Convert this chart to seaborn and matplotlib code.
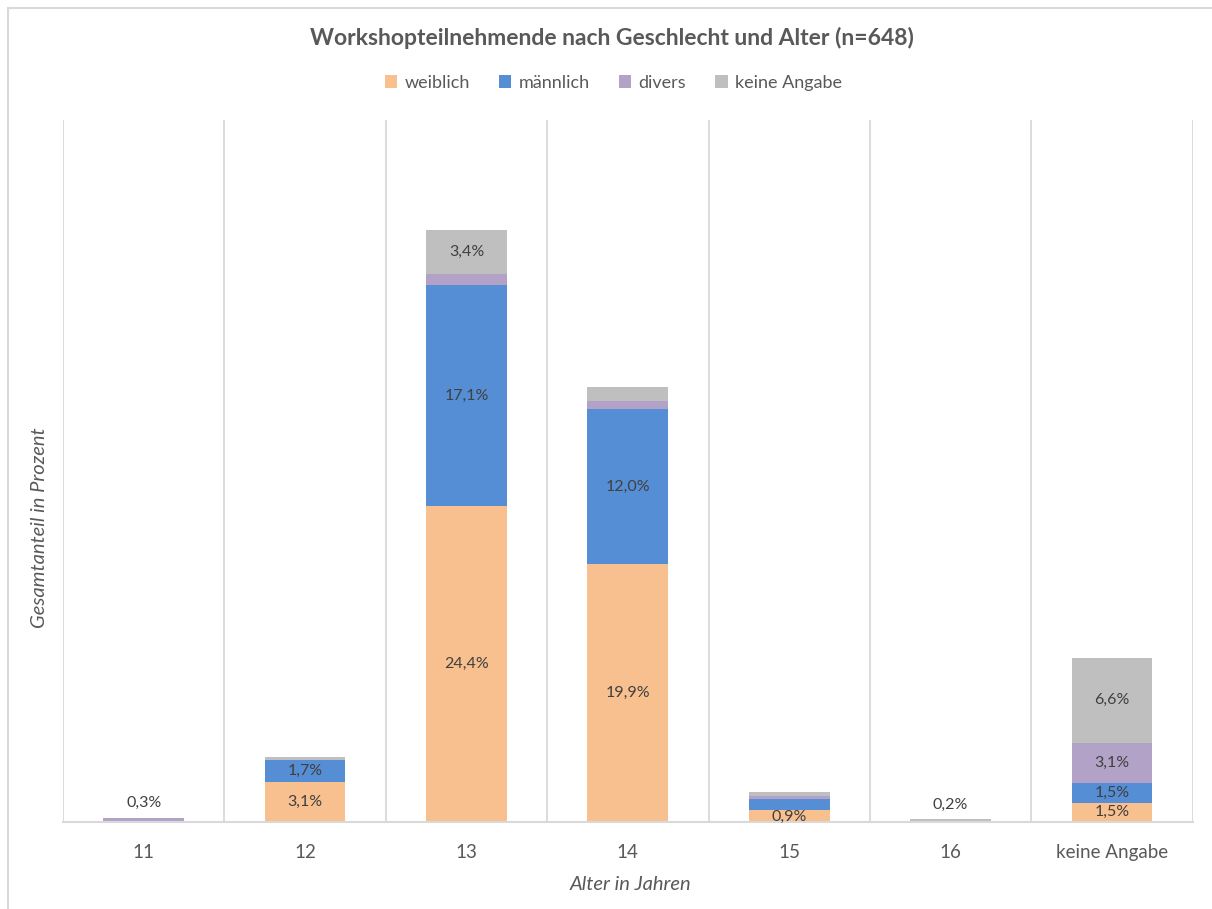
import matplotlib
matplotlib.use("Agg")
import matplotlib.pyplot as plt
import seaborn as sns
import pandas as pd
import numpy as np
from matplotlib.patches import Patch
from matplotlib.lines import Line2D

sns.set_theme(style="white")
plt.rcParams['font.family'] = ['Lato', 'DejaVu Sans']

categories = ["11", "12", "13", "14", "15", "16", "keine Angabe"]
series = ["weiblich", "männlich", "divers", "keine Angabe"]
weiblich = [0.0, 3.1, 24.4, 19.9, 0.9, 0.0, 1.5]
maennlich = [0.0, 1.7, 17.1, 12.0, 0.9, 0.0, 1.5]
divers = [0.3, 0.0, 0.8, 0.6, 0.2, 0.0, 3.1]
keine = [0.0, 0.2, 3.4, 1.1, 0.3, 0.2, 6.6]
# which segments carry a data label
labels_w = [None, "3,1%", "24,4%", "19,9%", "0,9%", None, "1,5%"]
labels_m = [None, "1,7%", "17,1%", "12,0%", None, None, "1,5%"]
labels_d = ["0,3%", None, None, None, None, None, "3,1%"]
labels_k = [None, None, "3,4%", None, None, "0,2%", "6,6%"]

colors = {"weiblich": "#F8C08E", "männlich": "#558ED5",
          "divers": "#B3A2C7", "keine Angabe": "#BFBFBF"}

vals = np.array([weiblich, maennlich, divers, keine])
cum = np.cumsum(vals, axis=0)
labels = [labels_w, labels_m, labels_d, labels_k]

fig = plt.figure(figsize=(12.12, 9.09), dpi=100)
ax = fig.add_axes([0.052, 0.0957, 0.932, 0.772])

# draw stacked bars: cumulative totals from top to bottom
for i in range(3, -1, -1):
    df = pd.DataFrame({"Alter": categories, "v": cum[i]})
    sns.barplot(data=df, x="Alter", y="v", order=categories, color=colors[series[i]],
                width=0.5, saturation=1, ax=ax, linewidth=0, errorbar=None)

# labels
for i in range(4):
    for j, lab in enumerate(labels[i]):
        if lab is None:
            continue
        lo = cum[i][j] - vals[i][j]
        hi = cum[i][j]
        if vals[i][j] < 0.5:
            y = hi + 0.6
            va = "bottom"
        else:
            y = (lo + hi) / 2
            va = "center"
            if vals[i][j] < 1.0:
                y = lo + 0.4
        ax.text(j, y, lab, ha="center", va=va, fontsize=11.5, color="#404040")

ax.set_ylim(0, 54.2)
ax.set_xlim(-0.5, 6.5)
ax.set_yticks([])
for b in np.arange(-0.5, 7.0, 1.0):
    ax.axvline(b, color="#D9D9D9", lw=1.3, zorder=0)
for s in ["top", "right", "left"]:
    ax.spines[s].set_visible(False)
ax.spines["bottom"].set_color("#D9D9D9")
ax.spines["bottom"].set_linewidth(1.5)
ax.tick_params(axis="x", length=0, labelsize=13.5, labelcolor="#595959", pad=16)
ax.set_xlabel("Alter in Jahren", fontsize=14.5, style="italic", color="#595959")
ax.xaxis.set_label_coords(0.502, -0.077)
ax.set_ylabel("Gesamtanteil in Prozent", fontsize=14.5, style="italic", color="#595959")
ax.yaxis.set_label_coords(-0.013, 0.42)

fig.text(0.505, 0.958, "Workshopteilnehmende nach Geschlecht und Alter (n=648)",
         ha="center", va="center", fontsize=16.5, fontweight="bold", color="#595959")
handles = [Patch(facecolor=colors[s], edgecolor="none") for s in series]
fig.legend(handles, series, loc="center", bbox_to_anchor=(0.506, 0.909), ncol=4,
           frameon=False, fontsize=13, labelcolor="#595959", handlelength=0.7,
           handleheight=0.7, handletextpad=0.4, columnspacing=1.6)

fig.add_artist(Line2D([0.007, 0.007], [0.0, 0.991], transform=fig.transFigure,
                      color="#D9D9D9", lw=1.5))
fig.add_artist(Line2D([0.007, 1.0], [0.991, 0.991], transform=fig.transFigure,
                      color="#D9D9D9", lw=1.5))

fig.savefig("out.png", dpi=100)
